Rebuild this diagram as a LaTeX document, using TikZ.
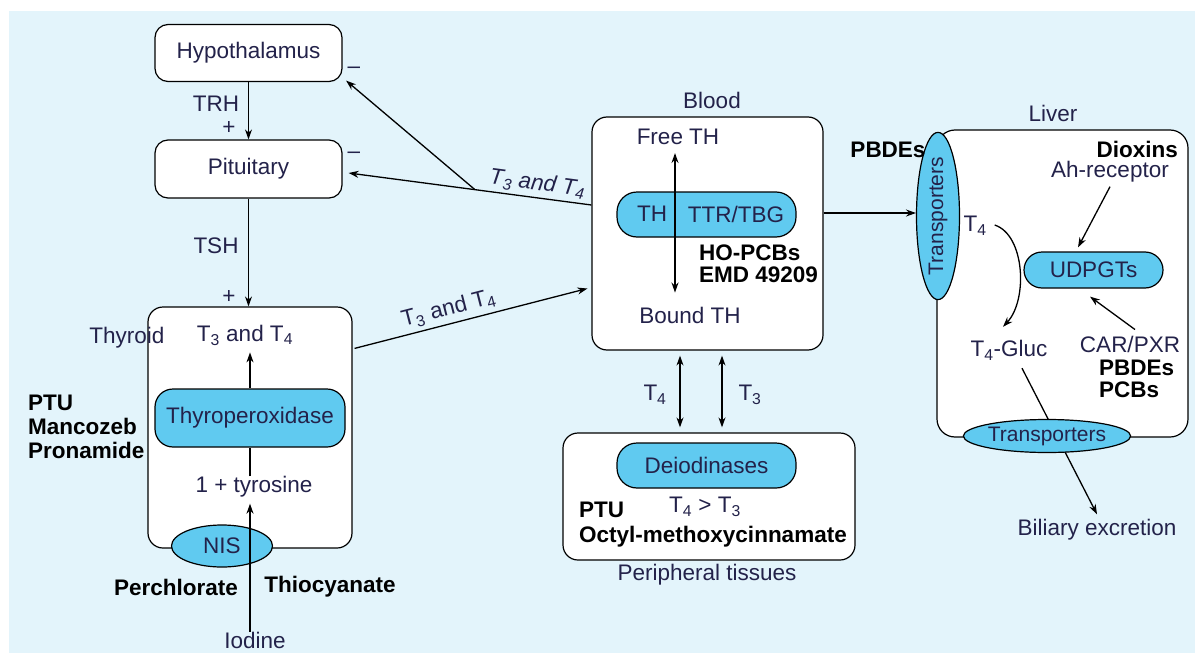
\documentclass[tikz,border=0pt]{standalone}
\usepackage{fontspec}
\setmainfont{Liberation Sans}
\usetikzlibrary{arrows.meta,shapes.geometric,calc}
\definecolor{bgc}{HTML}{E3F4FB}
\definecolor{cyanf}{HTML}{60CAF0}
\definecolor{tc}{HTML}{23224A}
\newcommand{\Ts}[1]{T\textsubscript{#1}}
\begin{document}
\begin{tikzpicture}[x=1pt,y=-1pt,
  every node/.style={font=\fontsize{22.5}{24}\selectfont, text=tc, inner sep=0pt},
  bld/.style={font=\fontsize{22.5}{24}\selectfont\bfseries, text=black},
  itl/.style={font=\fontsize{22.5}{24}\selectfont\itshape},
  organ/.style={draw, fill=white, line width=1.2pt, rounded corners=13pt},
  enz/.style={draw, fill=cyanf, line width=1.2pt, rounded corners=18pt},
  trans/.style={ellipse, draw, fill=cyanf, line width=1.2pt, font=\fontsize{21}{22}\selectfont},
  arr/.style={-{Stealth[length=10pt,width=7pt]}, line width=1.3pt},
  darr/.style={{Stealth[length=10pt,width=7pt]}-{Stealth[length=10pt,width=7pt]}, line width=1.3pt},
  ln/.style={line width=1.3pt}]
\useasboundingbox (0,0) rectangle (1195,653);
\fill[bgc] (9,11) rectangle (1195,653);

% organ boxes
\node[organ, minimum width=187pt, minimum height=57pt] (hyp) at (248.5,53) {Hypothalamus};
\node[organ, minimum width=187pt, minimum height=58pt] (pit) at (248.5,169) {Pituitary};
\node[organ, minimum width=204pt, minimum height=241pt, rounded corners=15pt] (thy) at (250,427.5) {};
\node[organ, minimum width=231pt, minimum height=233pt, rounded corners=15pt] (blood) at (707.5,233.5) {};
\node[organ, minimum width=292pt, minimum height=127pt, rounded corners=15pt] (peri) at (709,496.5) {};
\node[organ, minimum width=251pt, minimum height=307pt, rounded corners=18pt] (liver) at (1062.5,283.5) {};

% enzymes
\node[enz, minimum width=190pt, minimum height=58pt] (tpo) at (250,418) {Thyroperoxidase};
\node[trans, minimum width=101pt, minimum height=42pt, font=\fontsize{22.5}{24}\selectfont] (nis) at (222,546) {NIS};
\node[enz, minimum width=179pt, minimum height=45pt, rounded corners=20pt] (ttr) at (706.5,214.5) {};
\node[enz, minimum width=179pt, minimum height=45pt, rounded corners=20pt] (deio) at (706.5,465.5) {Deiodinases};
\node[enz, minimum width=139pt, minimum height=36pt, rounded corners=18pt] (udp) at (1093.5,270) {UDPGTs};
\node[trans, minimum width=148pt, minimum height=43pt, rotate=90] (trL) at (938,216) {Transporters};

% labels: hypothalamus / pituitary
\node (trh) at (216,104) {TRH};
\node (p1) at (229,128) {+};
\node (tsh) at (216,246) {TSH};
\node (p2) at (229,297) {+};
\node (m1) at (354,70) {\textendash};
\node (m2) at (354,155) {\textendash};

% thyroid
\node (lthy) at (127,338) {Thyroid};
\node (t34) at (245,335) {\Ts3 and \Ts4};
\node (tyr) at (254,487) {1 + tyrosine};
\node (iod) at (255,640) {Iodine};
\node[bld] (perc) at (176,587) {Perchlorate};
\node[bld] (thio) at (330,587) {Thiocyanate};
\node[bld, anchor=west, align=left] (ptu) at (28,427) {PTU\\Mancozeb\\Pronamide};

% blood
\node (lblood) at (712,100) {Blood};
\node (free) at (678,137) {Free TH};
\node (bound) at (690,315) {Bound TH};
\node (th) at (652,214) {TH};
\node (ttrt) at (736,214) {TTR/TBG};
\node[bld, anchor=west, align=left, font=\fontsize{22.5}{22}\selectfont\bfseries] (ho) at (699,264) {HO-PCBs\\EMD 49209};

% peripheral
\node (t43) at (705,507) {\Ts4 > \Ts3};
\node[bld, anchor=west, align=left, font=\fontsize{22.5}{25}\selectfont\bfseries] (ptu2) at (579,524.5) {PTU\\Octyl-methoxycinnamate};
\node (lperi) at (707,575) {Peripheral tissues};
\node (lt4) at (655,395) {\Ts4};
\node (lt3) at (750,395) {\Ts3};

% liver
\node (lliver) at (1053,113) {Liver};
\node[bld] (pbde1) at (888,150) {PBDEs};
\node[bld, anchor=east] (diox) at (1178,149) {Dioxins};
\node (ahr) at (1110,172) {Ah-receptor};
\node (lt4l) at (975,226) {\Ts4};
\node (gluc) at (1009,350) {\Ts4-Gluc};
\node (car) at (1130,344) {CAR/PXR};
\node[bld, anchor=west, align=left, font=\fontsize{22.5}{22}\selectfont\bfseries] (pb2) at (1099,379) {PBDEs\\PCBs};
\node (bil) at (1097,530) {Biliary excretion};

% connectors
\draw[arr] (hyp.south) -- (pit.north);
\draw[arr] (pit.south) -- (pit.south |- thy.north);
\draw[arr] (tpo.north) -- ($(tpo.north)+(0,-36)$) coordinate (t34tip);
\draw[ln] (tpo.south |- tyr.north) -- (tpo.south);
\draw[arr] (tpo.south |- iod.north) -- ($(tpo.south |- tyr.south)+(0,6)$);

\coordinate (bl1) at (blood.west |- 0,205);
\coordinate (pitin) at ($(pit.east)+(6,4)$);
\coordinate (br) at ($(bl1)!0.4795!(pitin)$);
\coordinate (hypin) at ($(hyp.south east)+(3.5,-1.5)$);
\draw[arr] (bl1) -- node[itl, pos=0.23, above=3pt, sloped] (lab1) {\Ts3 and \Ts4} (pitin);
\draw[arr] (br) -- (hypin);

\coordinate (thyout) at ($(thy.north east)+(2,42)$);
\coordinate (bloodin) at ($(blood.west)+(-4,55)$);
\draw[arr] (thyout) -- node[pos=0.42, above=4pt, sloped] (lab2) {\Ts3 and \Ts4} (bloodin);

\draw[darr] ($(free.south)+(-3,8)$) -- ($(bound.north)+(-15,-14)$);

\draw[darr] ($(blood.south)+(-27.5,5)$) -- ($(peri.north)+(-29,-5)$);
\draw[darr] ($(blood.south)+(14.5,5)$) -- ($(peri.north)+(13,-5)$);

\draw[arr] (blood.east |- 0,213) -- ($(trL.center)+(-22,-3)$);

\draw[arr] ($(ahr.south)+(0,4)$) -- ($(udp.north)+(-15.5,-4)$);
\draw[arr] ($(car.north)+(5,-6)$) -- ($(udp.south)+(-3.5,8)$);
\draw[arr] ($(lt4l.east)+(8,-1)$) .. controls (1025,235) and (1028,300) .. ($(gluc.north)+(-6,-13)$);
\draw[arr] ($(gluc.south)+(13,8)$) -- ($(bil.north)+(0,-5)$);

\node[trans, minimum width=161pt, minimum height=33pt] (trB) at (1047,436) {Transporters};
\end{tikzpicture}
\end{document}
